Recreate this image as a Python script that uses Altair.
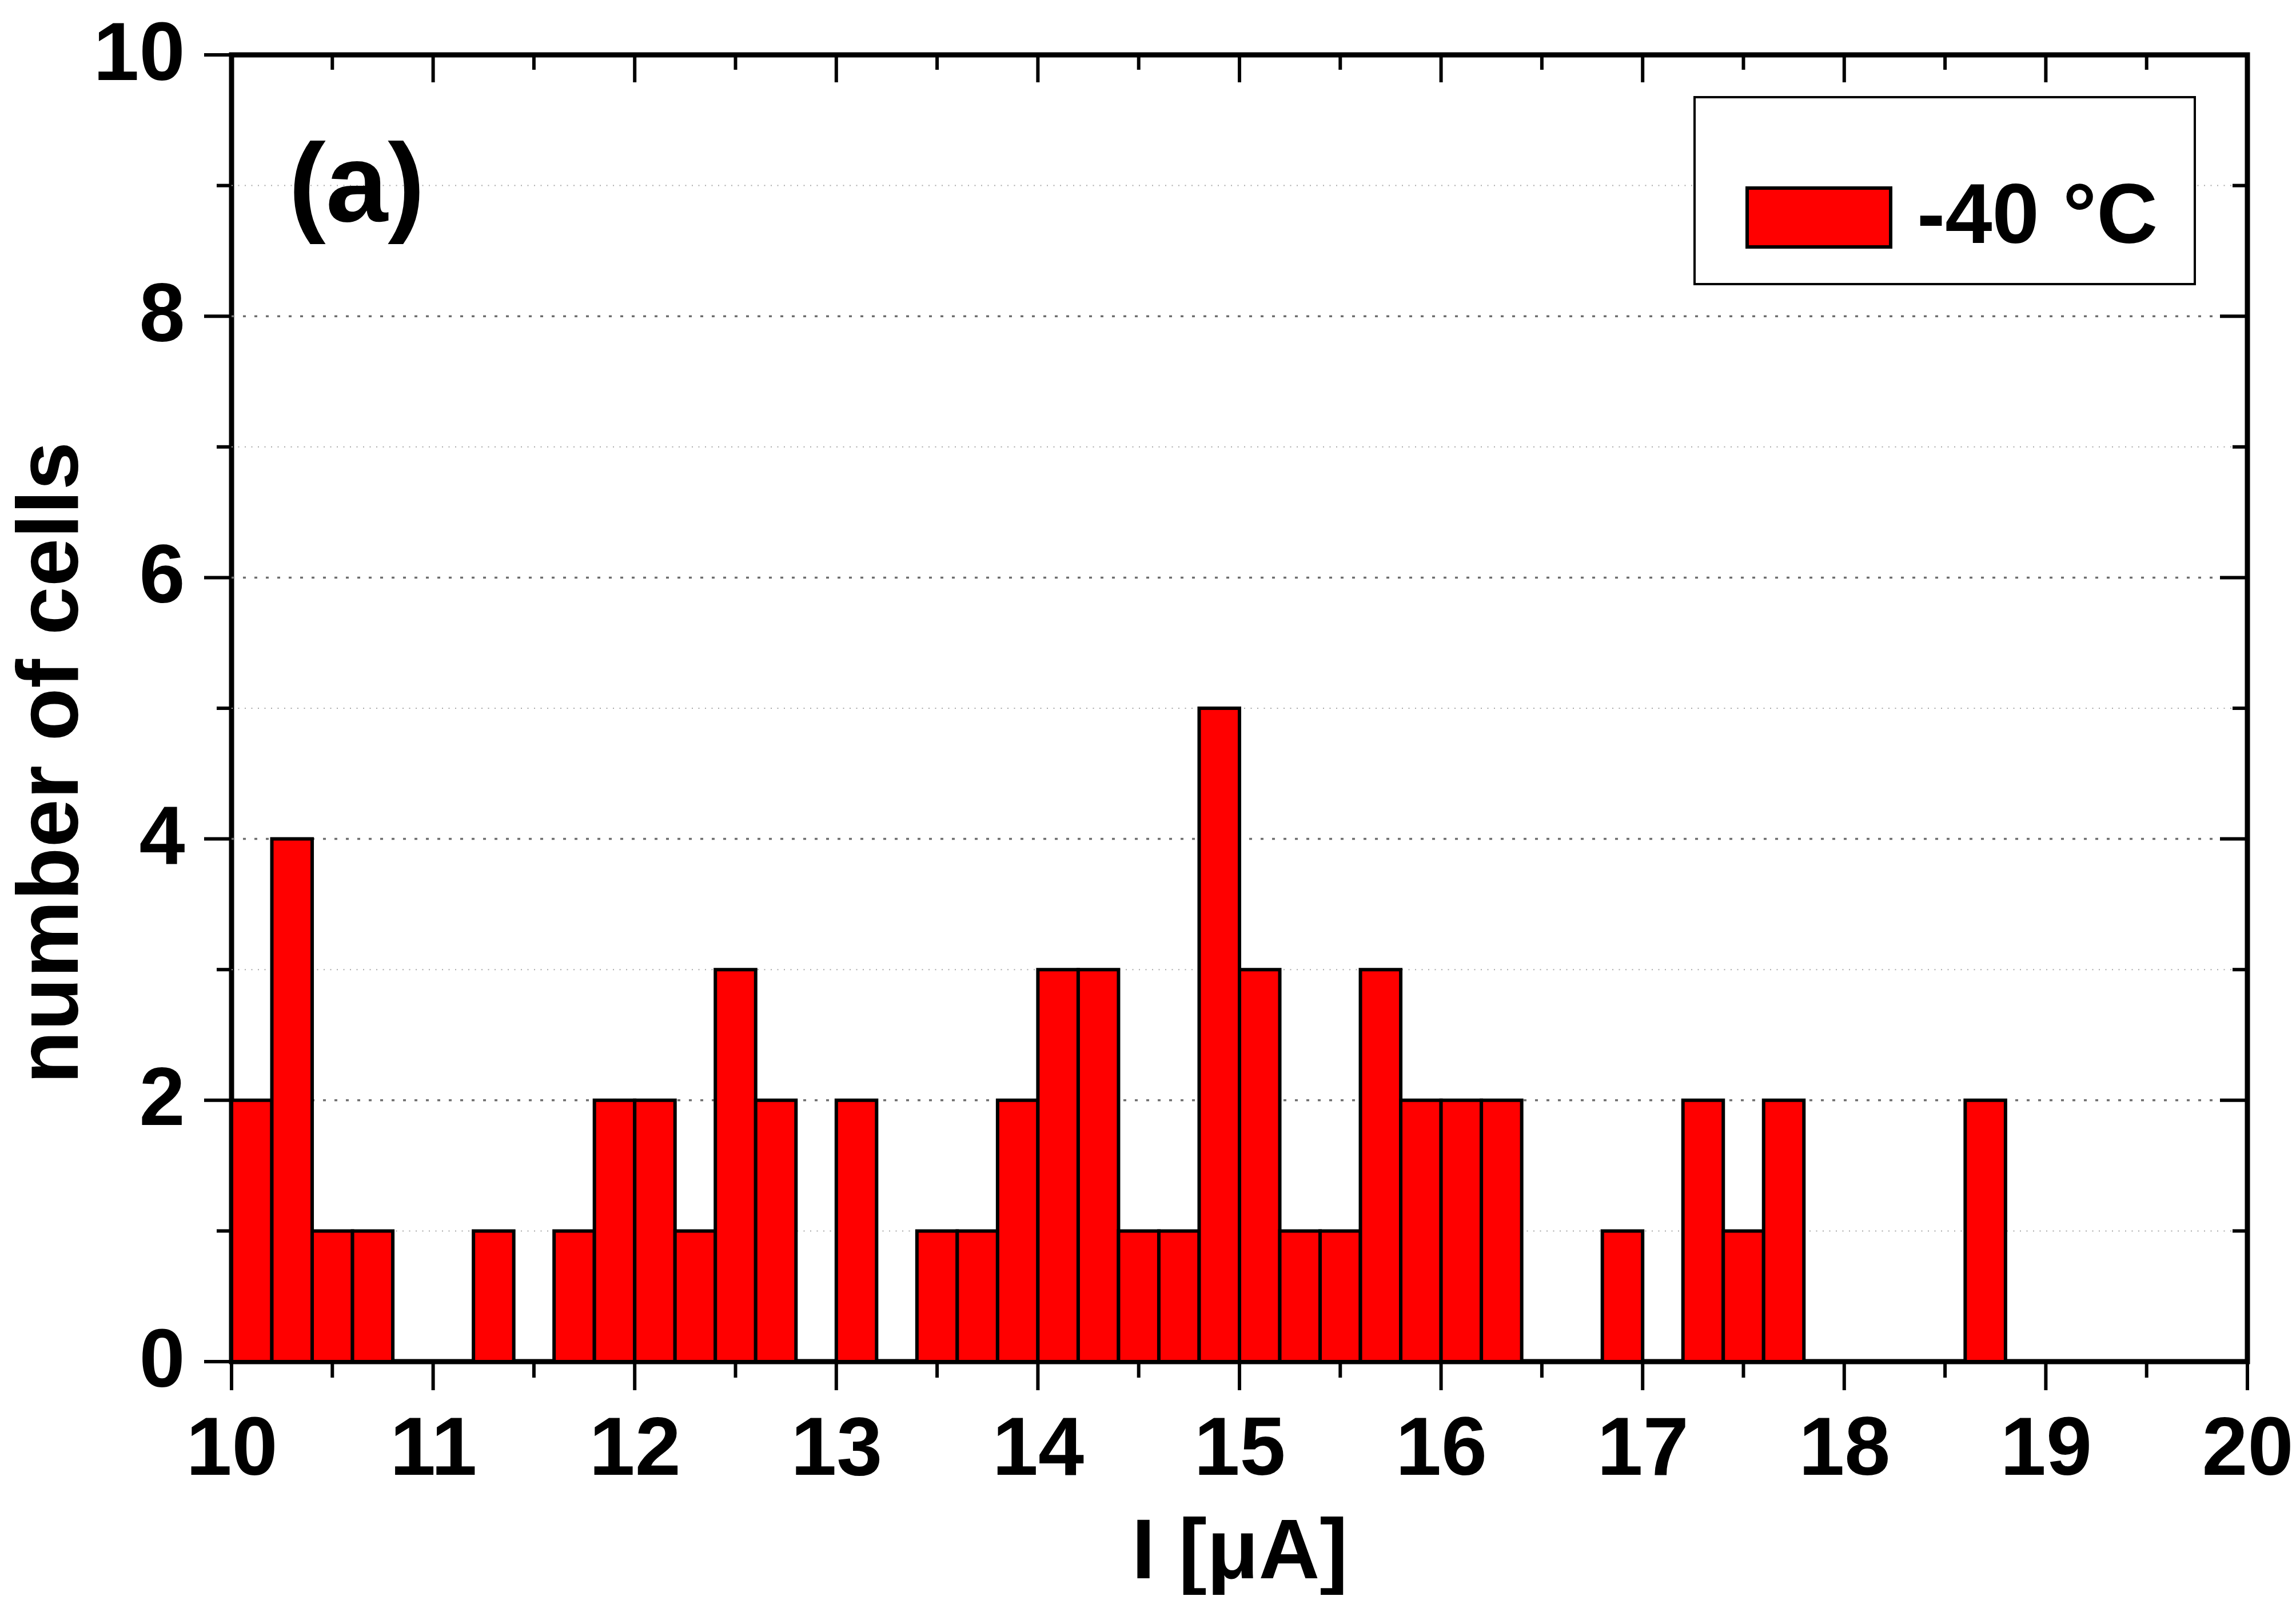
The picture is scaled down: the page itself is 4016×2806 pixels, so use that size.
import altair as alt
import pandas as pd

# ---------------- data ----------------
bin_left = [10.0, 10.2, 10.4, 10.6, 10.8, 11.0, 11.2, 11.4, 11.6, 11.8,
            12.0, 12.2, 12.4, 12.6, 12.8, 13.0, 13.2, 13.4, 13.6, 13.8,
            14.0, 14.2, 14.4, 14.6, 14.8, 15.0, 15.2, 15.4, 15.6, 15.8,
            16.0, 16.2, 16.4, 16.6, 16.8, 17.0, 17.2, 17.4, 17.6, 17.8,
            18.0, 18.2, 18.4, 18.6, 18.8, 19.0, 19.2, 19.4, 19.6, 19.8]
counts = [2, 4, 1, 1, 0, 0, 1, 0, 1, 2,
          2, 1, 3, 2, 0, 2, 0, 1, 1, 2,
          3, 3, 1, 1, 5, 3, 1, 1, 3, 2,
          2, 2, 0, 0, 1, 0, 2, 1, 2, 0,
          0, 0, 0, 2, 0, 0, 0, 0, 0, 0]
BIN_WIDTH = 0.2
series_name = "-40 °C"
panel_label = "(a)"

x_major = [10, 11, 12, 13, 14, 15, 16, 17, 18, 19, 20]
x_minor = [10.5, 11.5, 12.5, 13.5, 14.5, 15.5, 16.5, 17.5, 18.5, 19.5]
y_major = [0, 2, 4, 6, 8, 10]
y_minor = [1, 3, 5, 7, 9]
grid_major = [2, 4, 6, 8]
grid_minor = [1, 3, 5, 7, 9]

# ---------------- layout / style ----------------
W, H = 3526, 2286
FONT = "Liberation Sans"
MAJ, MIN = 48, 26
TICKW = 6

xs = alt.Scale(domain=[10, 20], nice=False, zero=False)
ys = alt.Scale(domain=[0, 10], nice=False, zero=False)

bars_df = pd.DataFrame({"left": bin_left, "count": counts})
bars_df = bars_df[bars_df["count"] > 0].copy()
bars_df["right"] = bars_df["left"] + BIN_WIDTH
bars_df["series"] = series_name

x_axis = alt.Axis(values=x_major, title="I [μA]", labelPadding=83, labelFlush=False,
                  labelOverlap=False, titleY=378, titleX=W / 2, titleBaseline="alphabetic",
                  titleFontSize=148, format="d", grid=False, ticks=False, tickSize=0,
                  domain=False)
y_axis = alt.Axis(values=y_major, title="number of cells", labelPadding=82,
                  labelOverlap=False, titleX=-270, titleY=1238, titleAngle=270,
                  titleBaseline="alphabetic", titleAlign="center", titleFontSize=152,
                  format="d", grid=False, ticks=False, tickSize=0, domain=False)

legend = alt.Legend(title=None, orient="none", legendX=2648, legendY=156, padding=0,
                    symbolType="M-1,-0.41L1,-0.41L1,0.41L-1,0.41Z", symbolSize=63001,
                    symbolStrokeColor="black", symbolStrokeWidth=6, symbolOpacity=1,
                    labelFont=FONT, labelFontSize=148, labelFontWeight="bold",
                    labelColor="black", labelOffset=43, labelLimit=2000)

grid_maj = alt.Chart(pd.DataFrame({"v": grid_major})).mark_rule(
    color="#6e6e6e", strokeWidth=3.5, strokeDash=[5, 15]).encode(
    y=alt.Y("v:Q", scale=ys, axis=y_axis), x=alt.value(0), x2=alt.value(W))
grid_min = alt.Chart(pd.DataFrame({"v": grid_minor})).mark_rule(
    color="#a8a8a8", strokeWidth=2, strokeDash=[2, 9.5]).encode(
    y=alt.Y("v:Q", scale=ys, axis=y_axis), x=alt.value(0), x2=alt.value(W))

legend_box = alt.Chart(pd.DataFrame({"k": [0]})).mark_rect(
    fill="white", stroke="black", strokeWidth=4).encode(
    x=alt.value(2559), x2=alt.value(3434), y=alt.value(74), y2=alt.value(401))

bars = alt.Chart(bars_df).mark_rect(stroke="black", strokeWidth=6, strokeJoin="miter",
                                    opacity=1).encode(
    x=alt.X("left:Q", scale=xs, axis=x_axis),
    x2="right:Q",
    y=alt.Y("count:Q", scale=ys, axis=y_axis),
    y2=alt.datum(0),
    color=alt.Color("series:N", scale=alt.Scale(domain=[series_name], range=["#ff0000"]),
                    legend=legend),
)


def yticks(vals, x0, x1):
    return alt.Chart(pd.DataFrame({"v": vals})).mark_rule(
        color="black", strokeWidth=TICKW).encode(
        y=alt.Y("v:Q", scale=ys, axis=y_axis), x=alt.value(x0), x2=alt.value(x1))


def xticks(vals, y0, y1):
    return alt.Chart(pd.DataFrame({"v": vals})).mark_rule(
        color="black", strokeWidth=TICKW).encode(
        x=alt.X("v:Q", scale=xs, axis=x_axis), y=alt.value(y0), y2=alt.value(y1))


ticks = [
    yticks(y_major, -MAJ, 0), yticks(y_minor, -MIN, 0),
    yticks(y_major, W - MAJ, W), yticks(y_minor, W - MIN, W),
    xticks(x_major, H, H + 50), xticks(x_minor, H, H + 28),
    xticks(x_major, 0, MAJ), xticks(x_minor, 0, MIN),
]

label = alt.Chart(pd.DataFrame({"t": [panel_label]})).mark_text(
    font=FONT, fontSize=195, fontWeight="bold", align="center",
    baseline="alphabetic", color="black").encode(
    x=alt.value(219), y=alt.value(291), text="t:N")

chart = alt.layer(grid_maj, grid_min, legend_box, bars, *ticks, label).properties(
    width=W, height=H,
    autosize=alt.AutoSizeParams(type="none"),
    padding={"left": 397, "top": 88, "right": 77, "bottom": 408},
    background="white",
).configure_view(stroke="black", strokeWidth=9).configure_axis(
    labelFont=FONT, labelFontSize=144, labelFontWeight="bold", labelColor="black",
    titleFont=FONT, titleFontWeight="bold", titleColor="black",
)

chart.save("out.html", embed_options={"renderer": "svg", "actions": False})
